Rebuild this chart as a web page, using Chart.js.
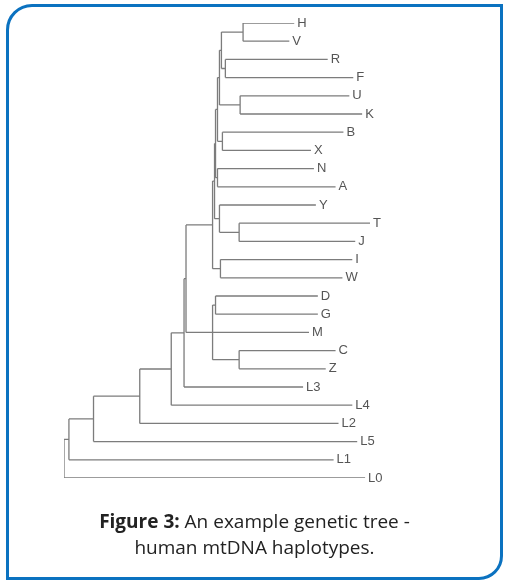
<!DOCTYPE html>
<html>
<head>
<meta charset="utf-8">
<script src="https://cdn.jsdelivr.net/npm/chart.js@4/dist/chart.umd.min.js"></script>
<style>
    html, body { margin: 0; padding: 0; background: #fff; }
    #page { position: relative; width: 505px; height: 581px; overflow: hidden; }
    #frame {
        position: absolute; left: 6px; top: 4px; width: 497px; height: 576px;
        box-sizing: border-box; border: 3px solid #0b72c0;
        border-radius: 26px 0 24px 0;
    }
    #plot { position: absolute; left: 0; top: 0; width: 505px; height: 581px; }
    #caption {
        position: absolute; left: 6px; width: 497px; top: 508px;
        text-align: center; font-family: "Open Sans", sans-serif;
        font-size: 19px; line-height: 26px; color: #222;
    }
</style>
</head>
<body>
<div id="page">
    <div id="frame"></div>
    <div id="plot"><canvas id="treeChart"></canvas></div>
    <div id="caption"><b>Figure 3:</b> An example genetic tree -<br>human mtDNA haplotypes.</div>
</div>
<script>
// Leaves, top to bottom, and the depth (distance from root) where each branch ends
const leaves = ['H', 'V', 'R', 'F', 'U', 'K', 'B', 'X', 'N', 'A', 'Y', 'T', 'J',
                'I', 'W', 'D', 'G', 'M', 'C', 'Z', 'L3', 'L4', 'L2', 'L5', 'L1', 'L0'];
const leafDepth = [234, 229, 268, 294, 290, 303, 284, 251, 254, 276, 256, 311, 296,
                   293, 283, 258, 258, 249, 276, 266, 243, 293, 279, 298, 274, 306];

// Internal nodes: name, depth and children (leaves or other nodes)
const nodeNames = ['HV', 'RF', 'HVRF', 'UK', 'HU', 'BX', 'HB', 'NA', 'HN', 'TJ', 'YT', 'HY',
                   'IW', 'Nn', 'DG', 'CZ', 'Mn', 'NM', 'L3n', 'L4n', 'L2n', 'L5n', 'L1n', 'root'];
const nodeDepth = [182, 164, 160, 179, 158, 161, 156, 156, 154, 178, 158, 153,
                   159, 151, 154, 178, 151, 124, 122, 109, 77, 30, 5, 0];
const nodeKids = [
    ['H', 'V'], ['R', 'F'], ['HV', 'RF'], ['U', 'K'], ['HVRF', 'UK'], ['B', 'X'],
    ['HU', 'BX'], ['N', 'A'], ['HB', 'NA'], ['T', 'J'], ['Y', 'TJ'], ['HN', 'YT'],
    ['I', 'W'], ['HY', 'IW'], ['D', 'G'], ['C', 'Z'], ['DG', 'M', 'CZ'], ['Nn', 'Mn'],
    ['NM', 'L3'], ['L3n', 'L4'], ['L4n', 'L2'], ['L2n', 'L5'], ['L5n', 'L1'], ['L1n', 'L0']
];

// position lookup: y = leaf row, or midpoint of first/last child for nodes
const pos = {};
leaves.forEach((name, i) => { pos[name] = { x: leafDepth[i], y: i }; });
nodeNames.forEach((name, i) => {
    const kids = nodeKids[i].map(k => pos[k]);
    pos[name] = { x: nodeDepth[i], y: (kids[0].y + kids[kids.length - 1].y) / 2 };
});

// build line segments, separated by gaps
const segments = [];
const gap = { x: NaN, y: NaN };
nodeNames.forEach((name, i) => {
    const node = pos[name];
    const kids = nodeKids[i].map(k => pos[k]);
    segments.push({ x: node.x, y: kids[0].y }, { x: node.x, y: kids[kids.length - 1].y }, gap);
    kids.forEach(k => segments.push({ x: node.x, y: k.y }, { x: k.x, y: k.y }, gap));
});

const leafLabels = {
    id: 'leafLabels',
    afterDatasetsDraw(chart) {
        const ctx = chart.ctx;
        const xs = chart.scales.x, ys = chart.scales.y;
        ctx.save();
        ctx.font = '13px "Liberation Sans", Arial, sans-serif';
        ctx.fillStyle = '#555';
        ctx.textBaseline = 'middle';
        leaves.forEach((name, i) => {
            ctx.fillText(name, xs.getPixelForValue(leafDepth[i]) + 3, ys.getPixelForValue(i));
        });
        ctx.restore();
    }
};

new Chart(document.getElementById('treeChart').getContext('2d'), {
    type: 'scatter',
    data: {
        datasets: [{
            data: segments,
            showLine: true,
            spanGaps: false,
            borderColor: '#7c7c7c',
            borderWidth: 1.3,
            pointRadius: 0
        }]
    },
    options: {
        responsive: true,
        maintainAspectRatio: false,
        animation: false,
        events: [],
        layout: { padding: { left: 64, right: 135, top: 23, bottom: 103 } },
        plugins: { legend: { display: false }, tooltip: { enabled: false } },
        scales: {
            x: { type: 'linear', display: false, min: 0, max: Math.max(...leafDepth) },
            y: { type: 'linear', display: false, reverse: true, min: 0, max: leaves.length - 1 }
        }
    },
    plugins: [leafLabels]
});
</script>
</body>
</html>
